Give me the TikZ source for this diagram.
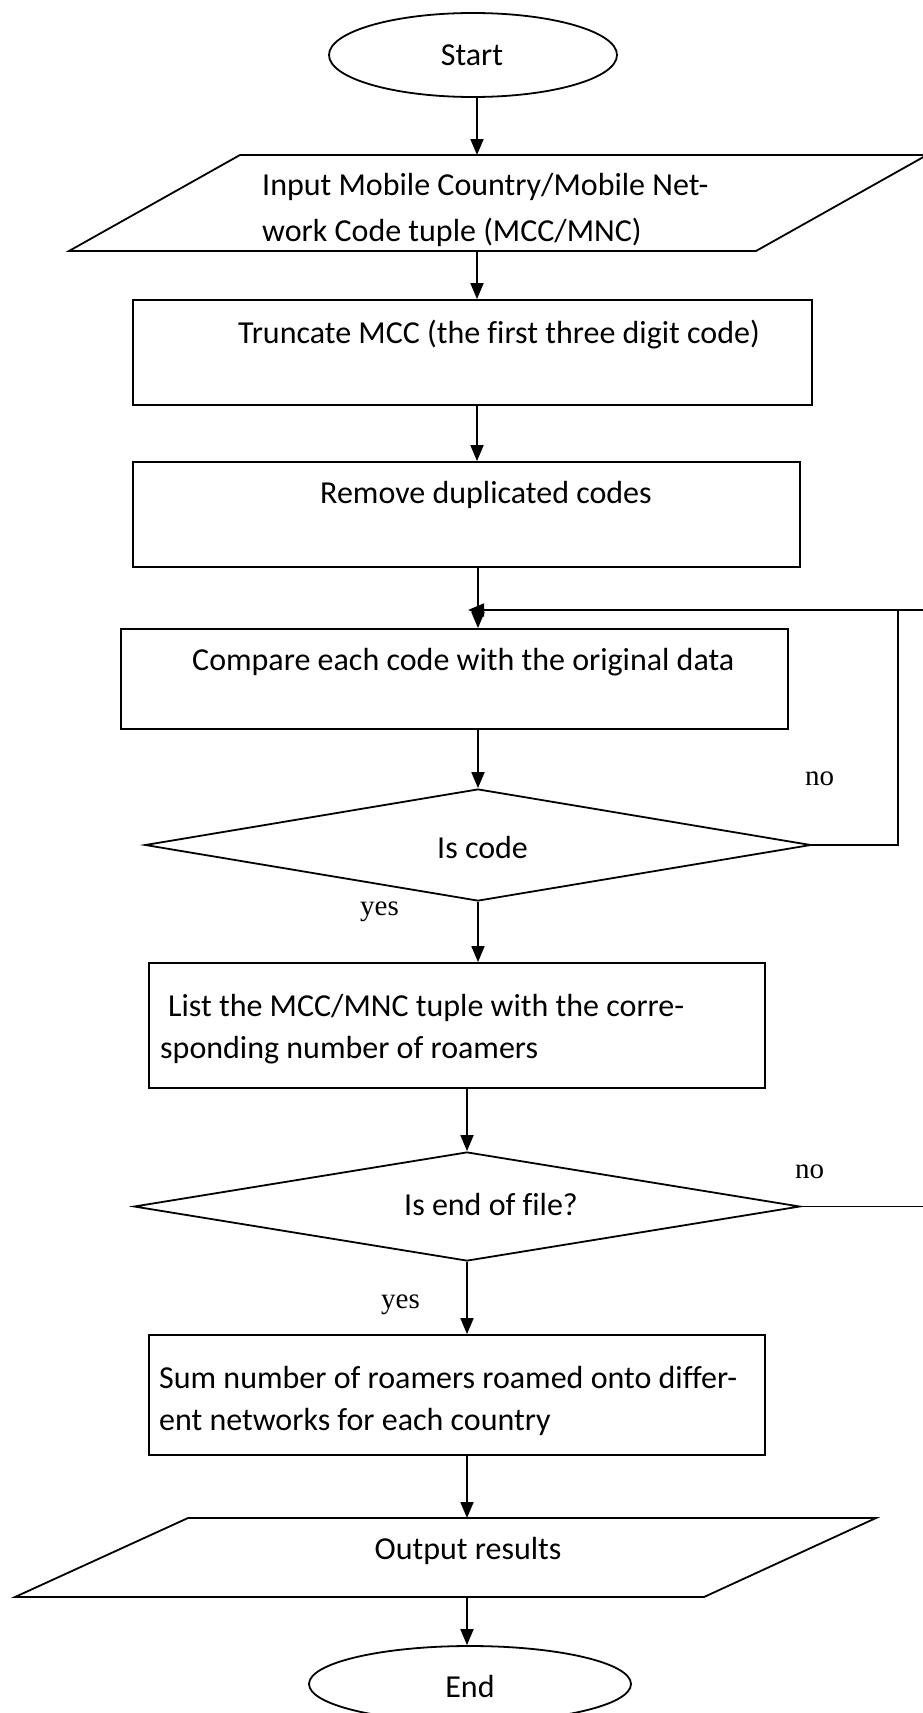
\documentclass[tikz,border=0pt]{standalone}
\usepackage{fontspec}
\setmainfont{Carlito}[Ligatures=NoCommon]
\newfontfamily\labelfont{Liberation Serif}
\usetikzlibrary{shapes.geometric,arrows.meta}
\begin{document}
\begin{tikzpicture}[x=1pt,y=-1pt,
  shp/.style={draw,line width=1.8pt,inner sep=0pt},
  box/.style={shp,rectangle},
  oval/.style={shp,ellipse},
  dia/.style={shp,diamond},
  txt/.style={inner sep=0pt,font=\fontsize{32}{45}\selectfont},
  lbl/.style={inner sep=0pt,font=\labelfont\fontsize{29}{34}\selectfont},
  conn/.style={line width=1.8pt},
  arr/.style={conn,-{Triangle[length=16pt,width=13pt]}}]
\useasboundingbox (0,0) rectangle (922,1713);

% shapes
\node[oval,minimum width=288pt,minimum height=84pt] (start) at (473,55) {};
\node[txt] (tstart) at (472,55) {Start};

\draw[conn] (240,155) -- (927,155) -- (756,251) -- (69,251) -- cycle;
\coordinate (in1n) at (477,155);
\coordinate (in1s) at (477,251);
\node[txt,anchor=base west] (tin1a) at (262,195) {Input Mobile Country/Mobile Net-};
\node[txt,anchor=base west] (tin1b) at (262,241) {work Code tuple (MCC/MNC)};

\node[box,minimum width=679pt,minimum height=105pt] (box2) at (472.5,352.5) {};
\node[txt,anchor=base west] (t2) at (238,343) {Truncate MCC (the first three digit code)};

\node[box,minimum width=667pt,minimum height=105pt] (box3) at (466.5,514.5) {};
\node[txt,anchor=base west] (t3) at (320,503) {Remove duplicated codes};

\node[box,minimum width=667pt,minimum height=100pt] (box4) at (454.5,679) {};
\node[txt,anchor=base west] (t4) at (192,670) {Compare each code with the original data};

\node[dia,minimum width=666pt,minimum height=112pt] (d1) at (478,845) {};
\node[txt,anchor=base west] (td1) at (437,858) {Is code};

\node[box,minimum width=616pt,minimum height=125pt] (box5) at (457,1025.5) {};
\node[txt,anchor=base west] (t5a) at (168,1016) {List the MCC/MNC tuple with the corre-};
\node[txt,anchor=base west] (t5b) at (160,1058) {sponding number of roamers};

\node[dia,minimum width=666pt,minimum height=109pt] (d2) at (467,1206.5) {};
\node[txt,anchor=base west] (td2) at (404,1215) {Is end of file?};

\node[box,minimum width=616pt,minimum height=120pt] (box6) at (457,1395) {};
\node[txt,anchor=base west] (t6a) at (159,1388) {Sum number of roamers roamed onto differ-};
\node[txt,anchor=base west] (t6b) at (159,1430) {ent networks for each country};

\draw[conn] (188,1518) -- (876,1518) -- (704,1597) -- (15,1597) -- cycle;
\coordinate (outn) at (467,1518);
\coordinate (outs) at (467,1597);
\node[txt,anchor=base] (tout) at (468,1559) {Output results};

\node[oval,minimum width=322pt,minimum height=76pt] (end) at (470,1684) {};
\node[txt,anchor=base] (tend) at (470,1697) {End};

% labels
\node[lbl,anchor=base west] (no1) at (805,785) {no};
\node[lbl,anchor=base west] (yes1) at (360,915) {yes};
\node[lbl,anchor=base west] (no2) at (795,1178) {no};
\node[lbl,anchor=base west] (yes2) at (381,1308) {yes};

% connectors
\draw[arr] (start.south -| 477,0) -- (in1n);
\draw[arr] (in1s) -- (box2.north -| 477,0);
\draw[arr] (box2.south -| 477,0) -- (box3.north -| 477,0);
\draw[arr] (box3.south -| 478,0) -- (box4.north -| 478,0);
\draw[arr] (box4.south -| 478,0) -- (d1.north);
\draw[arr] (d1.south) -- (box5.north -| 478,0);
\draw[arr] (box5.south -| 467,0) -- (d2.north);
\draw[arr] (d2.south) -- (box6.north -| 467,0);
\draw[arr] (box6.south -| 467,0) -- (outn);
\draw[arr] (outs) -- (end.north -| 467,0);

% loops
\coordinate (join) at (468,610);
\coordinate (loopc) at (898,610);
\coordinate (offR) at (935,610);
\draw[conn] (d1.east) -| (loopc);
\draw[arr] (offR) -- (join);
\draw[conn] (d2.east) -- (d2.east -| offR);
\end{tikzpicture}
\end{document}
